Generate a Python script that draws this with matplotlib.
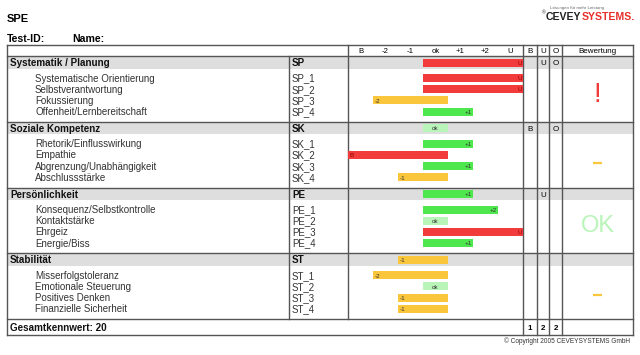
import matplotlib.pyplot as plt
import numpy as np
from matplotlib.patches import Rectangle

plt.rcParams["font.family"] = ["Liberation Sans", "DejaVu Sans"]

# ---- data -------------------------------------------------------------
levels = ["B", "-2", "-1", "ok", "+1", "+2", "U"]
sections = ["Systematik / Planung", "Soziale Kompetenz", "Persönlichkeit", "Stabilität"]
section_codes = ["SP", "SK", "PE", "ST"]
section_scores = ["U", "ok", "+1", "-1"]
items = [
    ["Systematische Orientierung", "Selbstverantwortung", "Fokussierung",
     "Offenheit/Lernbereitschaft"],
    ["Rhetorik/Einflusswirkung", "Empathie", "Abgrenzung/Unabhängigkeit",
     "Abschlussstärke"],
    ["Konsequenz/Selbstkontrolle", "Kontaktstärke", "Ehrgeiz", "Energie/Biss"],
    ["Misserfolgstoleranz", "Emotionale Steuerung", "Positives Denken",
     "Finanzielle Sicherheit"],
]
item_scores = [
    ["U", "U", "-2", "+1"],
    ["+1", "B", "+1", "-1"],
    ["+2", "ok", "U", "+1"],
    ["-2", "ok", "-1", "-1"],
]
flag_cols = ["B", "U", "O"]
section_flags = [["", "U", "O"], ["B", "", "O"], ["", "U", ""], ["", "", ""]]
flag_totals = ["1", "2", "2"]
ratings = ["!", "-", "OK", "-"]
total_score = 20

# ---- styles -----------------------------------------------------------
RED, ORANGE, GREEN, LGREEN = "#f23c3c", "#f9c63c", "#4ee84e", "#b9f5b9"
LINE = "#555555"
GRAY = "#dedede"


def bar_color(v):
    if abs(v) == 3:
        return RED
    if v < 0:
        return ORANGE
    if v > 0:
        return GREEN
    return LGREEN


def label(a, x, y, s, size, **kw):
    # vertically centre on cap height, baseline-aligned so rows line up
    return a.text(x, y + 0.5 * size, s, fontsize=size, va="baseline", **kw)


fig = plt.figure(figsize=(6.4, 3.55), dpi=100)
ax = fig.add_axes([0, 0, 1, 1])
ax.set_xlim(0, 640)
ax.set_ylim(355, 0)
ax.axis("off")

# table geometry (pixels)
x_left, x_code, x_bar0, x_bar1, x_right = 7, 289, 348, 523, 633
x_flags = [523, 537, 549, 562]
y_top, y_body, y_end, y_bottom = 45, 56, 319, 335
sec_tops = np.linspace(y_body, y_end, len(sections) + 1)

# gray section header bands
for t in sec_tops[:-1]:
    ax.add_patch(Rectangle((x_left, t), x_right - x_left, 12.5,
                           facecolor=GRAY, edgecolor="none", zorder=0))

# horizontal lines
for y in [y_top, y_body, *sec_tops[1:-1], y_end, y_bottom]:
    ax.plot([x_left, x_right], [y, y], color=LINE, lw=1.0, zorder=3)
# vertical lines
ax.plot([x_left, x_left], [y_top, y_bottom], color=LINE, lw=1.0, zorder=3)
ax.plot([x_right, x_right], [y_top, y_bottom], color=LINE, lw=1.0, zorder=3)
ax.plot([x_code, x_code], [y_body, y_end], color=LINE, lw=1.0, zorder=3)
ax.plot([x_bar0, x_bar0], [y_top, y_end], color=LINE, lw=1.0, zorder=3)
for xf in x_flags:
    ax.plot([xf, xf], [y_top, y_bottom], color=LINE, lw=1.0, zorder=3)

# titles
label(ax, 7, 18, "SPE", 8, fontweight="bold")
label(ax, 7, 38, "Test-ID:", 7.6, fontweight="bold")
label(ax, 72, 38, "Name:", 7.6, fontweight="bold")
label(ax, 577, 7, "Lösungen für mehr Leistung", 3.2, color="#666666",
      ha="center")
label(ax, 546, 13, "®", 3.5, color="#333333", ha="right")
logo = ax.text(546, 19.5, "CEVEY", fontsize=7.6, fontweight="bold",
               color="#222222", va="baseline")
ax.annotate("SYSTEMS.", xy=(1, 0), xycoords=logo, va="bottom", ha="left",
            fontsize=7.6, fontweight="bold", color="#e8302c")

# bar axis (value scale)
bax = fig.add_axes([x_bar0 / 640, 1 - y_end / 355,
                    (x_bar1 - x_bar0) / 640, (y_end - y_body) / 355])
bax.set_xlim(-3.5, 3.5)
bax.set_ylim(y_end, y_body)
bax.axis("off")
bax.patch.set_alpha(0)

yhdr = (y_top + y_body) / 2
for i, lab in enumerate(levels):
    label(bax, i - 3, yhdr, lab, 5.6, ha="center", clip_on=False)
for lab, x0, x1 in zip(flag_cols, x_flags[:-1], x_flags[1:]):
    label(ax, (x0 + x1) / 2, yhdr, lab, 5.8, ha="center")
label(ax, (x_flags[-1] + x_right) / 2, yhdr, "Bewertung", 5.8, ha="center")


def draw_bar(y, score):
    v = levels.index(score) - 3
    left = min(v, 0) - 0.5
    right = max(v, 0) + 0.5
    bax.barh(y, right - left, left=left, height=8, color=bar_color(v),
             edgecolor="none", zorder=2)
    tc = "#8b0000" if abs(v) == 3 else "#333333"
    if v > 0:
        label(bax, right - 0.06, y, score, 4.5, ha="right", color=tc, zorder=4)
    elif v < 0:
        label(bax, left + 0.08, y, score, 4.5, ha="left", color=tc, zorder=4)
    else:
        label(bax, 0, y, score, 4.5, ha="center", color=tc, zorder=4)


for k, top in enumerate(sec_tops[:-1]):
    yh = top + 6.5
    label(ax, 10, yh, sections[k], 7.1, fontweight="bold", color="#111111")
    label(ax, 292, yh, section_codes[k], 7.1, fontweight="bold",
          color="#111111")
    draw_bar(yh, section_scores[k])
    for lab, x0, x1 in zip(section_flags[k], x_flags[:-1], x_flags[1:]):
        label(ax, (x0 + x1) / 2, yh, lab, 5.8, ha="center")
    ys = top + 22 + 11.2 * np.arange(len(items[k]))
    for j, (name, y) in enumerate(zip(items[k], ys)):
        label(ax, 35, y, name, 7.0, color="#333333")
        label(ax, 292, y, f"{section_codes[k]}_{j + 1}", 7.0, color="#333333")
        draw_bar(y, item_scores[k][j])
    xc = (x_flags[-1] + x_right) / 2
    if ratings[k] == "-":
        yd = ys.mean() + 2.5
        ax.plot([xc - 4.5, xc + 4.5], [yd, yd], color=ORANGE,
                lw=1.6, solid_capstyle="butt")
    elif ratings[k] == "!":
        ax.text(xc, ys.mean(), "!", ha="center", va="center", color=RED,
                fontsize=20)
    else:
        ax.text(xc, ys.mean(), ratings[k], ha="center", va="center",
                color=LGREEN, fontsize=17)

yg = (y_end + y_bottom) / 2
label(ax, 10, yg, f"Gesamtkennwert: {total_score}", 7.1, fontweight="bold",
      color="#111111")
for lab, x0, x1 in zip(flag_totals, x_flags[:-1], x_flags[1:]):
    label(ax, (x0 + x1) / 2, yg, lab, 5.8, fontweight="bold", ha="center")

label(ax, 630, 341, "© Copyright 2005 CEVEYSYSTEMS GmbH", 4.7, ha="right",
      color="#333333")

fig.savefig("out.png", dpi=100)
